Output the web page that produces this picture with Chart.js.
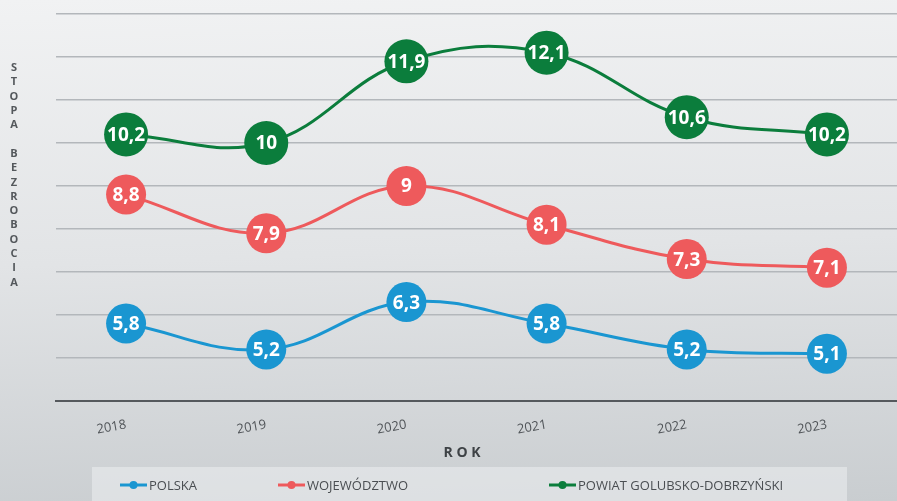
<!DOCTYPE html>
<html>
<head>
<meta charset="utf-8">
<script src="https://cdn.jsdelivr.net/npm/chart.js@4.4.1/dist/chart.umd.min.js"></script>
<style>
  html, body { margin: 0; padding: 0; }
  body { width: 897px; height: 501px; overflow: hidden;
         background: linear-gradient(178deg, #f1f2f3 0%, #e2e4e6 50%, #c9cdd0 100%); }
  #wrap { position: relative; width: 897px; height: 501px; }
</style>
</head>
<body>
<div id="wrap"><canvas id="chart"></canvas></div>
<script>
// dane
const years = ['2018', '2019', '2020', '2021', '2022', '2023'];
const polska = [5.8, 5.2, 6.3, 5.8, 5.2, 5.1];
const wojewodztwo = [8.8, 7.9, 9, 8.1, 7.3, 7.1];
const powiat = [10.2, 10, 11.9, 12.1, 10.6, 10.2];
const seriesNames = ['POLSKA', 'WOJEWÓDZTWO', 'POWIAT GOLUBSKO-DOBRZYŃSKI'];
const yTitle = 'STOPA BEZROBOCIA';
const xTitle = 'R O K';

const blue = '#1a96d1';
const red = '#ee5a5c';
const green = '#0b7d3c';

// etykiety wartosci w kolkach
const valueLabels = {
  id: 'valueLabels',
  afterDatasetsDraw(chart) {
    const ctx = chart.ctx;
    ctx.save();
    ctx.fillStyle = '#ffffff';
    ctx.font = 'bold 19px "Open Sans"';
    ctx.textAlign = 'center';
    ctx.textBaseline = 'middle';
    chart.data.datasets.forEach((ds, i) => {
      chart.getDatasetMeta(i).data.forEach((pt, j) => {
        ctx.fillText(String(ds.data[j]).replace('.', ','), pt.x, pt.y + 1);
      });
    });
    ctx.restore();
  }
};

// tytuly osi i legenda w szarym polu
const extras = {
  id: 'extras',
  afterDraw(chart) {
    const ctx = chart.ctx;
    ctx.save();
    ctx.fillStyle = '#54585c';
    ctx.font = 'bold 11px "Open Sans"';
    ctx.textAlign = 'center';
    ctx.textBaseline = 'middle';
    yTitle.split('').forEach((ch, i) => {
      ctx.fillText(ch, 14, 68 + i * 14.3);
    });

    ctx.fillStyle = '#3e4246';
    ctx.font = 'bold 14px "Open Sans"';
    ctx.fillText(xTitle, 462, 453);

    // legenda
    ctx.fillStyle = 'rgba(236,238,240,0.55)';
    ctx.fillRect(92, 467, 755, 40);
    const starts = [120, 278, 549];
    ctx.font = '13px "Open Sans"';
    ctx.textAlign = 'left';
    chart.data.datasets.forEach((ds, i) => {
      const x = starts[i], y = 485;
      ctx.strokeStyle = ds.borderColor;
      ctx.lineWidth = 3;
      ctx.beginPath();
      ctx.moveTo(x, y);
      ctx.lineTo(x + 27, y);
      ctx.stroke();
      ctx.fillStyle = ds.borderColor;
      ctx.beginPath();
      ctx.arc(x + 13.5, y, 4, 0, Math.PI * 2);
      ctx.fill();
      ctx.fillStyle = '#4a4e52';
      ctx.fillText(ds.label, x + 29, y + 1);
    });
    ctx.restore();
  }
};

function series(label, data, color, r) {
  return {
    label: label,
    data: data,
    borderColor: color,
    backgroundColor: color,
    borderWidth: 3,
    tension: 0.4,
    pointRadius: r,
    pointHoverRadius: r,
    pointBorderWidth: 0,
    pointBackgroundColor: color,
    clip: false
  };
}

new Chart(document.getElementById('chart'), {
  type: 'line',
  data: {
    labels: years,
    datasets: [
      series(seriesNames[0], polska, blue, 20),
      series(seriesNames[1], wojewodztwo, red, 20),
      series(seriesNames[2], powiat, green, 22)
    ]
  },
  options: {
    responsive: true,
    maintainAspectRatio: false,
    animation: false,
    layout: { autoPadding: false, padding: { left: 56, right: 0, top: 14, bottom: 0 } },
    plugins: {
      legend: { display: false },
      tooltip: { enabled: false }
    },
    scales: {
      x: {
        offset: true,
        grid: { display: false, drawTicks: false },
        border: { color: '#55595d', width: 2 },
        ticks: {
          minRotation: 10,
          maxRotation: 10,
          padding: 16,
          color: '#505458',
          font: { family: 'Open Sans', size: 13 }
        },
        afterFit(scale) {
          scale.height = 100;
          scale.paddingLeft = 0;
          scale.paddingRight = 0;
        }
      },
      y: {
        min: 4,
        max: 13,
        ticks: { display: false, stepSize: 1 },
        grid: { color: '#b3b7bb', lineWidth: 1.5, drawTicks: false },
        border: { display: false },
        afterFit(scale) {
          scale.paddingTop = 0;
          scale.paddingBottom = 0;
        }
      }
    }
  },
  plugins: [valueLabels, extras]
});
</script>
</body>
</html>
